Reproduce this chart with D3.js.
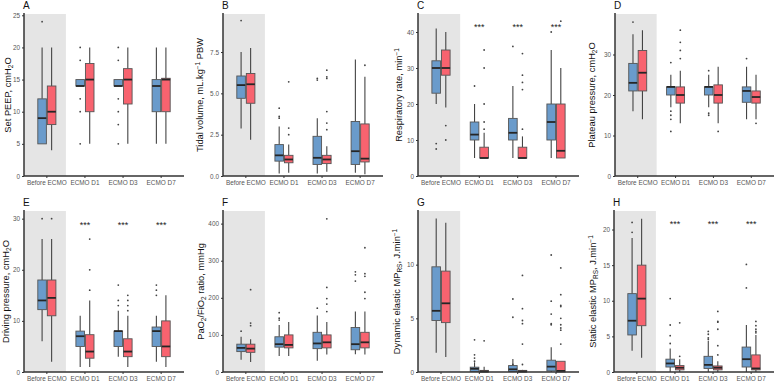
<!doctype html>
<html lang=en>
<head>
  <meta charset=utf-8>
  <title>Ventilation settings before and during ECMO</title>
  <style>
    html, body {
      margin: 0;
      background: #fff;
      font-family: "Liberation Sans", Arial, sans-serif;
    }
    .tick text {
      fill: #555;
      font-size: 6.4px;
    }
    .domain, .tick line {
      stroke: #333;
    }
  </style>
  <script src="https://cdn.jsdelivr.net/npm/d3@7"></script>
</head>
<body>
<script>
  const categories = ['Before ECMO', 'ECMO D1', 'ECMO D3', 'ECMO D7']
  const groups = ['blue', 'red']

  // each row: [low whisker, q1, median, q3, high whisker, outliers]
  // order: Before blue, Before red, D1 blue, D1 red, D3 blue, D3 red, D7 blue, D7 red
  const peep = [
    [5, 5, 9, 12, 20, [24]],
    [4, 8, 10, 14, 20, []],
    [14, 14, 14, 15, 15, [20, 18, 12, 10, 5]],
    [5, 10, 15, 17.5, 20, []],
    [14, 14, 14, 15, 15, [20, 18, 12, 10, 8, 5]],
    [5, 11.2, 15, 16.7, 20, []],
    [5, 10, 14, 15, 20, []],
    [5, 10, 15, 15.2, 20, []],
  ]
  const tidalVolume = [
    [2.87, 4.7, 5.5, 6.05, 7.5, [9.4]],
    [2.2, 4.4, 5.55, 6.2, 7.75, []],
    [0.15, 0.9, 1.25, 1.9, 3.0, [4.1, 3.6, 3.5]],
    [0.2, 0.8, 1.0, 1.25, 1.9, [5.7, 2.9, 2.5]],
    [0.15, 0.7, 1.1, 2.4, 3.5, [5.9, 5.8]],
    [0.25, 0.75, 1.0, 1.25, 1.8, [6.4, 6.0, 5.9, 3.9, 3.2, 2.8]],
    [0.2, 0.7, 1.5, 3.3, 7.05, []],
    [0.1, 0.85, 1.05, 3.15, 6.0, [6.7]],
  ]
  const respRate = [
    [20, 23, 30, 32, 41, [9, 7.5]],
    [19, 28, 30, 35, 40, [14, 10]],
    [5, 10, 11.5, 15, 20, [25]],
    [5, 5, 5, 8, 12, [35, 30, 20, 15, 13]],
    [5, 10, 12, 16, 25, [36]],
    [5, 5, 5, 8, 11, [34, 28, 26, 24, 13]],
    [5, 10, 15, 20, 35, [40]],
    [5, 5, 7, 20, 30, [43]],
  ]
  const plateau = [
    [16, 21, 23, 27.8, 35, [38]],
    [14, 21, 25.5, 31, 36, []],
    [17, 20, 22, 22, 25, [28, 16, 15, 14, 11]],
    [13, 18, 20, 22, 26, [36, 33, 31, 29]],
    [17, 20, 22, 22, 25, [26, 15.5, 15]],
    [13, 18, 20, 22.5, 27, [11]],
    [14, 18.2, 21, 22, 27, [29]],
    [14, 18, 19.5, 21, 25, [13]],
  ]
  const drivingPressure = [
    [6, 12.2, 14, 18, 26, [30]],
    [2, 11, 14.5, 18, 26, [30]],
    [1, 5, 7, 8, 11, []],
    [1, 2.7, 4, 7.3, 14, [26, 20, 16]],
    [3, 5, 8, 8, 12, [17, 14, 13]],
    [1, 3, 4, 6.5, 11, [15, 14, 13, 12]],
    [2, 5, 8, 8.8, 11, [17, 16, 15]],
    [1, 3, 5, 10, 15, []],
  ]
  const pfRatio = [
    [33, 55, 65, 75, 95, [110]],
    [27, 53, 63, 75, 88, [222, 132, 125]],
    [43, 67, 75, 95, 127, [160, 145, 140]],
    [43, 65, 73, 100, 135, []],
    [30, 63, 77, 107, 152, [172]],
    [47, 65, 80, 100, 135, [413, 228, 198, 183, 163]],
    [48, 60, 75, 120, 163, [270, 262, 245]],
    [47, 65, 80, 107, 163, [335, 265, 258, 215, 198]],
  ]
  const dynamicMP = [
    [1.8, 4.8, 5.7, 9.8, 14.3, []],
    [1.4, 4.6, 6.4, 9.4, 13.9, []],
    [0, 0.05, 0.3, 0.45, 0.9, [3.0, 1.6, 1.3, 1.0]],
    [0, 0, 0.05, 0.15, 0.5, [2.9]],
    [0, 0.05, 0.25, 0.6, 1.2, [6.8, 5.1, 0.7]],
    [0, 0, 0.05, 0.15, 0.2, [9.0, 5.9, 4.8, 4.5, 2.6, 0.7]],
    [0, 0.1, 0.5, 1.1, 2.3, [10.9, 6.6, 5.4, 4.5, 4.4]],
    [0, 0, 0.1, 1.0, 1.0, [9.7, 7.2, 6.2, 6.1, 5.0, 4.4, 4.1, 3.9, 2.6]],
  ]
  const staticMP = [
    [3, 5.2, 7.2, 11, 18.8, [21, 19.6]],
    [2, 6.5, 10.3, 15, 21.5, []],
    [0, 0.7, 1.2, 1.8, 3.3, [10.3, 6.6, 5.1, 4.0]],
    [0, 0.3, 0.6, 0.9, 1.8, [6.9, 2.2]],
    [0, 0.5, 1.0, 2.2, 4.4, [5.7, 5.3, 4.8, 4.6]],
    [0, 0.3, 0.6, 0.85, 1.5, [8.5, 7.1, 7.0, 6.0, 3.7, 2.4]],
    [0, 0.7, 1.8, 3.5, 6.6, [15.1, 11.8]],
    [0, 0.3, 0.5, 2.4, 5.2, [7.1, 6.5, 6.0, 5.7, 5.5]],
  ]

  const panels = [
    { letter: 'A', data: peep, yMax: 25.2, ticks: [0, 5, 10, 15, 20, 25], fmt: 'd',
      title: [['Set PEEP, cmH'], ['2', 'sub'], ['O']], stars: [] },
    { letter: 'B', data: tidalVolume, yMax: 9.8, ticks: [0, 2.5, 5, 7.5], fmt: '.1f',
      title: [['Tidal volume, mL.kg'], ['\u22121', 'sup'], [' PBW']], stars: [] },
    { letter: 'C', data: respRate, yMax: 45, ticks: [0, 10, 20, 30, 40], fmt: 'd',
      title: [['Respiratory rate, min'], ['\u22121', 'sup']], stars: [1, 2, 3], starY: 41.5 },
    { letter: 'D', data: plateau, yMax: 40, ticks: [0, 10, 20, 30], fmt: 'd',
      title: [['Plateau pressure, cmH'], ['2', 'sub'], ['O']], stars: [] },
    { letter: 'E', data: drivingPressure, yMax: 31.5, ticks: [0, 10, 20, 30], fmt: 'd',
      title: [['Driving pressure, cmH'], ['2', 'sub'], ['O']], stars: [1, 2, 3], starY: 28.9 },
    { letter: 'F', data: pfRatio, yMax: 434, ticks: [0, 100, 200, 300, 400], fmt: 'd',
      title: [['PaO'], ['2', 'sub'], ['/FiO'], ['2', 'sub'], [' ratio, mmHg']], stars: [] },
    { letter: 'G', data: dynamicMP, yMax: 15, ticks: [0, 5, 10], fmt: 'd',
      title: [['Dynamic elastic MP'], ['RS', 'sub'], [', J.min'], ['\u22121', 'sup']], stars: [] },
    { letter: 'H', data: staticMP, yMax: 22.6, ticks: [0, 5, 10, 15, 20], fmt: 'd',
      title: [['Static elastic MP'], ['RS', 'sub'], [', J.min'], ['\u22121', 'sup']], stars: [1, 2, 3], starY: 20.8 },
  ]

  const color = d3.scaleOrdinal(groups, ['#6a9bcb', '#f8636f'])

  const width = 775
  const height = 382
  const lefts = [[24, 223, 418, 615], [24, 223, 418, 614]]
  const rights = [184, 383, 579, 774]
  const tops = [14, 211]
  const bottoms = [176, 372]
  const titleOffsets = [[16, 23, 19, 23], [18, 22, 21, 21]]

  const svg = d3.select('body')
    .append('svg')
      .attr('width', width)
      .attr('height', height)

  panels.forEach((p, i) => {
    const row = Math.floor(i / 4)
    const col = i % 4
    const L = lefts[row][col]
    const R = rights[col]
    const T = tops[row]
    const B = bottoms[row]

    const x = d3.scaleBand()
      .domain(categories)
      .range([L, R])
      .paddingInner(0)
      .paddingOuter(0.1)
    const dodge = d3.scaleBand()
      .domain(groups)
      .range([0.25 * x.bandwidth(), 0.75 * x.bandwidth()])
    const y = d3.scaleLinear()
      .domain([0, p.yMax])
      .range([B, T])

    const g = svg.append('g')

    g.append('rect')
      .attr('x', L)
      .attr('y', T)
      .attr('width', x(categories[0]) + x.bandwidth() - L)
      .attr('height', B - T)
      .attr('fill', '#e5e5e5')

    const boxes = p.data.map((d, k) => ({
      cat: categories[Math.floor(k / 2)],
      grp: groups[k % 2],
      lo: d[0], q1: d[1], med: d[2], q3: d[3], hi: d[4], out: d[5],
    }))
    const bw = dodge.bandwidth() * 0.9

    const box = g.selectAll('g.box')
      .data(boxes)
      .enter()
      .append('g')
        .attr('class', 'box')
        .attr('transform', d => `translate(${x(d.cat) + dodge(d.grp) + dodge.bandwidth() / 2},0)`)

    box.append('line')
      .attr('y1', d => y(d.hi))
      .attr('y2', d => y(d.q3))
      .attr('stroke', '#444')
      .attr('stroke-width', 1.1)
    box.append('line')
      .attr('y1', d => y(d.lo))
      .attr('y2', d => y(d.q1))
      .attr('stroke', '#444')
      .attr('stroke-width', 1.1)
    box.append('rect')
      .attr('x', -bw / 2)
      .attr('width', bw)
      .attr('y', d => y(d.q3))
      .attr('height', d => Math.max(0.5, y(d.q1) - y(d.q3)))
      .attr('fill', d => color(d.grp))
      .attr('stroke', '#555')
      .attr('stroke-width', 0.9)
    box.append('line')
      .attr('x1', -bw / 2)
      .attr('x2', bw / 2)
      .attr('y1', d => y(d.med))
      .attr('y2', d => y(d.med))
      .attr('stroke', '#262626')
      .attr('stroke-width', 1.8)
    box.selectAll('circle')
      .data(d => d.out)
      .enter()
      .append('circle')
        .attr('cy', v => y(v))
        .attr('r', 0.9)
        .attr('fill', '#444')

    g.selectAll('text.stars')
      .data(p.stars)
      .enter()
      .append('text')
        .attr('class', 'stars')
        .attr('x', k => x(categories[k]) + x.bandwidth() / 2)
        .attr('y', y(p.starY) + 3.5)
        .attr('text-anchor', 'middle')
        .attr('font-size', 9)
        .attr('fill', '#222')
        .text('***')

    const gy = g.append('g')
      .attr('transform', `translate(${L},0)`)
      .call(d3.axisLeft(y).tickValues(p.ticks).tickSize(2).tickPadding(2).tickFormat(d3.format(p.fmt)))
    gy.select('.domain')
      .attr('d', `M0,${T - 1}V${B}`)
      .attr('stroke-width', 1.5)

    const gx = g.append('g')
      .attr('transform', `translate(0,${B})`)
      .call(d3.axisBottom(x).tickSize(2).tickPadding(2))
    gx.select('.domain')
      .attr('d', `M${L},0H${R}`)
      .attr('stroke-width', 1.5)

    const title = g.append('text')
      .attr('transform', `translate(${L - titleOffsets[row][col]},${(T + B) / 2}) rotate(-90)`)
      .attr('text-anchor', 'middle')
      .attr('dy', '0.35em')
      .attr('font-size', 9.3)
      .attr('fill', '#111')
    for (const [s, kind] of p.title) {
      const t = title.append('tspan').text(s)
      if (kind === 'sub') t.attr('font-size', 6.5).attr('baseline-shift', '-25%')
      if (kind === 'sup') t.attr('font-size', 6.5).attr('baseline-shift', '40%')
    }

    g.append('text')
      .attr('x', L - 1)
      .attr('y', T - 5.5)
      .attr('font-size', 10)
      .attr('fill', '#111')
      .text(p.letter)
  })
</script>
</body>
</html>
